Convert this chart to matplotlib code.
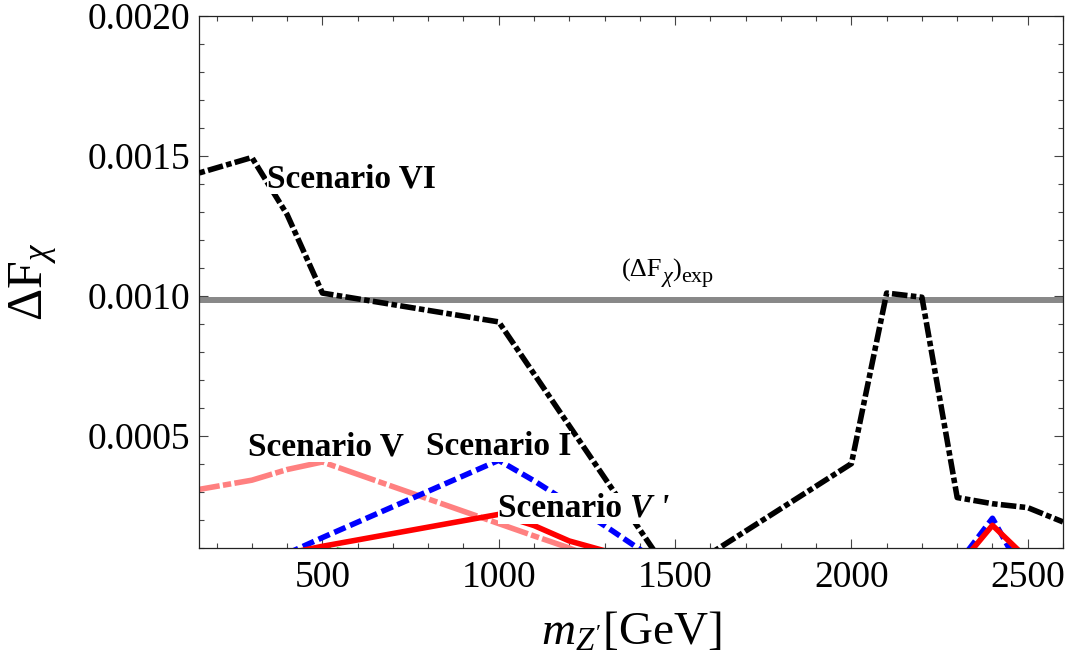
import matplotlib
matplotlib.use("Agg")
import matplotlib.pyplot as plt
from matplotlib.ticker import MultipleLocator, FixedLocator, FuncFormatter

plt.rcParams["font.family"] = ["Liberation Serif", "DejaVu Serif"]
plt.rcParams["mathtext.fontset"] = "custom"
plt.rcParams["mathtext.rm"] = "Liberation Serif"
plt.rcParams["mathtext.it"] = "Liberation Serif:italic"
plt.rcParams["mathtext.bf"] = "Liberation Serif:bold"

# Scenario VI (black, dot-dashed)
mz_vi = [100, 300, 400, 500, 1000, 1500, 1600, 2000, 2100, 2200, 2300, 2400, 2500, 2600]
df_vi = [0.00142, 0.001494, 0.00129, 0.00101, 0.000907, -0.00002, 0.00008,
         0.000401, 0.00101, 0.000995, 0.00028, 0.000258, 0.000244, 0.000193]

# Scenario V (pink, dash-dotted)
mz_v = [100, 300, 400, 500, 1000, 1100, 1200, 1300]
df_v = [0.000298, 0.000342, 0.00038, 0.000407, 0.000187, 0.000143, 0.0001, 0.00005]

# Scenario I (blue, dashed)
mz_i = [400, 500, 1000, 1100, 1200, 1300, 1400, 1500, 2300, 2400, 2500]
df_i = [0.00008, 0.000137, 0.000413, 0.00034, 0.00026, 0.00018, 0.000095, 0.00001,
        0.00004, 0.000206, -0.00002]

# Scenario V' (red, solid)
mz_vp = [400, 500, 1000, 1100, 1200, 1300, 2300, 2400, 2500]
df_vp = [0.00008, 0.000106, 0.00022, 0.00018, 0.000125, 0.00009, 0.00003, 0.000181, 0.00006]

# green (barely visible at the bottom)
mz_g = [400, 500, 600]
df_g = [0.00008, 0.000102, 0.00008]

df_exp = 0.000985

fig = plt.figure(figsize=(10.72, 6.61), dpi=100)
ax = fig.add_axes([0.1856, 0.171, 0.806, 0.8052])

lw = 4.0
ax.axhline(df_exp, color="#888888", lw=4.3, zorder=1)
ax.plot(mz_v, df_v, color="#ff8080", lw=lw, dashes=(7, 0.6, 1.5, 0.6), zorder=2)
ax.plot(mz_g, df_g, color="#22dd22", lw=lw, dashes=(2.0, 1.0), zorder=2)
ax.plot(mz_i, df_i, color="blue", lw=lw, dashes=(2.2, 0.9), zorder=3)
ax.plot(mz_vp, df_vp, color="red", lw=lw, zorder=4)
ax.plot(mz_vi, df_vi, color="black", lw=lw, dashes=(2.8, 0.6, 1.0, 0.6), zorder=5)

# scenario labels
box = dict(facecolor="white", edgecolor="none", pad=0)
lab = dict(fontsize=24, fontweight="bold", va="baseline", zorder=6, bbox=box)
ax.text(342, 0.001387, "Scenario VI", **lab)
ax.text(289, 0.000431, "Scenario V", **lab)
ax.text(794, 0.000431, "Scenario I", **lab)
t_vp = ax.text(997, 0.000211, "Scenario ", **lab)
ax.annotate("V '", xy=(1, 0), xycoords=t_vp, ha="left", va="bottom",
            fontsize=24, fontweight="bold", fontstyle="italic", zorder=6, bbox=box)

# (ΔFχ)exp label, built from pieces so the subscripts stay large
t1 = ax.text(1350, 0.00107, "(ΔF", fontsize=19, va="baseline", zorder=6)
t2 = ax.annotate("χ", xy=(1, 0), xycoords=t1, xytext=(0, -4),
                 textcoords="offset points", fontsize=16, fontstyle="italic",
                 va="bottom", ha="left", zorder=6)
t3 = ax.annotate(")", xy=(1, 0), xycoords=t2, xytext=(0, 4),
                 textcoords="offset points", fontsize=19, va="bottom", ha="left", zorder=6)
ax.annotate("exp", xy=(1, 0), xycoords=t3, xytext=(0, -4),
            textcoords="offset points", fontsize=16, va="bottom", ha="left", zorder=6)

ax.set_xlim(150, 2600)
ax.set_ylim(0.0001, 0.002)
ax.xaxis.set_major_locator(MultipleLocator(500))
ax.xaxis.set_minor_locator(MultipleLocator(100))
ax.yaxis.set_major_locator(FixedLocator([0.0005, 0.0010, 0.0015, 0.0020]))
ax.yaxis.set_minor_locator(MultipleLocator(0.0001))
ax.yaxis.set_major_formatter(FuncFormatter(lambda v, p: f"{v:.4f}"))

ax.tick_params(which="both", direction="in", top=True, right=True,
               color="#444444", width=0.8, labelsize=27)
ax.tick_params(which="major", length=6.5)
ax.tick_params(which="minor", length=3.6)
ax.tick_params(axis="x", pad=9)
ax.tick_params(axis="y", pad=6)
for s in ax.spines.values():
    s.set_linewidth(0.9)
    s.set_color("#222222")

ax.set_xlabel(r"$m_{Z'}$[GeV]", fontsize=34, labelpad=12)
ax.set_ylabel(r"$\Delta\mathrm{F}_{\chi}$", fontsize=36, labelpad=20)

fig.savefig("out.png", dpi=100)
